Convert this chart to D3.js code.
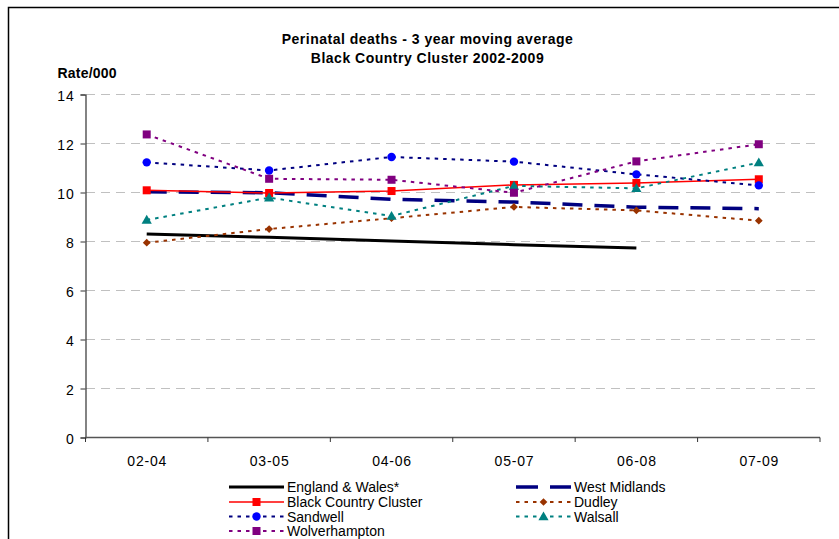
<!DOCTYPE html>
<html><head><meta charset="utf-8">
<script src="https://cdn.jsdelivr.net/npm/d3@7"></script>
<style>
html,body{margin:0;padding:0;background:#fff;}
svg{display:block;font-family:"Liberation Sans",Arial,sans-serif;}
</style></head>
<body><svg id="c" width="839" height="539"></svg>
<script>
const categories = ["02-04","03-05","04-06","05-07","06-08","07-09"];
const yTicks = [0,2,4,6,8,10,12,14];
const englandWales = [8.31, 8.17, 8.02, 7.87, 7.73, null];
const westMidlands = [10.03, 9.99, 9.72, 9.61, 9.40, 9.34];
const blackCountry = [10.09, 9.98, 10.06, 10.31, 10.39, 10.54];
const dudley = [7.95, 8.51, 8.95, 9.41, 9.27, 8.85];
const sandwell = [11.23, 10.90, 11.45, 11.26, 10.74, 10.29];
const walsall = [8.88, 9.79, 9.04, 10.27, 10.17, 11.22];
const wolverhampton = [12.37, 10.56, 10.52, 9.99, 11.27, 11.97];
const seriesNames = ["England & Wales*","West Midlands","Black Country Cluster","Dudley","Sandwell","Walsall","Wolverhampton"];

const styles = [
  {line:"#000000", w:3, dash:null, marker:null, mc:null},
  {line:"#000080", w:3.5, dash:"20,12", marker:null, mc:null},
  {line:"#FF0000", w:1.5, dash:null, marker:"square", mc:"#FF0000"},
  {line:"#993300", w:2, dash:"3.5,5", marker:"diamond", mc:"#993300"},
  {line:"#000080", w:2, dash:"3.5,5", marker:"circle", mc:"#0000FF"},
  {line:"#008080", w:2, dash:"3.5,5", marker:"triangle", mc:"#008080"},
  {line:"#800080", w:2, dash:"3.5,5", marker:"square", mc:"#800080"}
];
const allSeries = [englandWales, westMidlands, blackCountry, dudley, sandwell, walsall, wolverhampton];

const svg = d3.select("#c");
svg.append("path").attr("d","M8.5,540 V7.5 H840").attr("fill","none").attr("stroke","#000").attr("stroke-width",1.5);

const x = d3.scalePoint().domain(categories).range([85.5, 820]).padding(0.5);
const xb = d3.scaleBand().domain(categories).range([85.5, 820]);
const y = d3.scaleLinear().domain([0,14]).range([437.5, 94.5]);

// gridlines
svg.append("g").selectAll("line").data(yTicks.filter(d=>d>0)).join("line")
  .attr("x1",86).attr("x2",820).attr("y1",d=>y(d)).attr("y2",d=>y(d))
  .attr("stroke","#c0c0c0").attr("stroke-width",1).attr("stroke-dasharray","9,6");

// y axis
const ya = svg.append("g").attr("transform","translate(85.5,0)")
  .call(d3.axisLeft(y).tickValues(yTicks).tickSize(5).tickPadding(6).tickFormat(d3.format("d")));
ya.select(".domain").attr("stroke","#333").attr("stroke-width",1.2);
ya.selectAll(".tick line").attr("stroke","#333");
ya.selectAll("text").attr("font-size",14).attr("letter-spacing",0.8).attr("fill","#000")
  .attr("font-family","Liberation Sans, Arial, sans-serif").attr("dy","0.4em");

// x axis
const xa = svg.append("g").attr("transform","translate(0,437.5)")
  .call(d3.axisBottom(x).tickSize(0).tickPadding(0));
xa.select(".domain").remove();
xa.selectAll("text").attr("font-size",14).attr("letter-spacing",0.8).attr("fill","#000")
  .attr("font-family","Liberation Sans, Arial, sans-serif").attr("dy",0).attr("y",28.5);
svg.append("line").attr("x1",85.5).attr("x2",820).attr("y1",437.5).attr("y2",437.5).attr("stroke","#555").attr("stroke-width",1.5);
const bounds = categories.map(c=>xb(c)).concat([xb(categories[categories.length-1])+xb.bandwidth()]);
svg.append("g").selectAll("line").data(bounds).join("line")
  .attr("x1",d=>d).attr("x2",d=>d).attr("y1",437.5).attr("y2",442).attr("stroke","#333");

function drawMarker(g, type, cx, cy, color){
  if(type==="square") g.append("rect").attr("x",cx-4).attr("y",cy-4).attr("width",8).attr("height",8).attr("fill",color);
  else if(type==="circle") g.append("circle").attr("cx",cx).attr("cy",cy).attr("r",4.2).attr("fill",color);
  else if(type==="diamond") g.append("path").attr("d",d3.symbol(d3.symbolSquare,30)()).attr("transform",`translate(${cx},${cy}) rotate(45)`).attr("fill",color);
  else if(type==="triangle") g.append("path").attr("d",d3.symbol(d3.symbolTriangle,45)()).attr("transform",`translate(${cx},${cy+0.8})`).attr("fill",color);
}

const lineGen = d3.line().defined(d=>d.v!=null).x(d=>x(d.c)).y(d=>y(d.v));
allSeries.forEach((s,i)=>{
  const st = styles[i];
  const pts = categories.map((c,j)=>({c, v:s[j]}));
  const g = svg.append("g");
  const p = g.append("path").datum(pts).attr("d",lineGen).attr("fill","none")
    .attr("stroke",st.line).attr("stroke-width",st.w).attr("stroke-linejoin","round");
  if(st.dash) p.attr("stroke-dasharray",st.dash);
  if(st.marker) pts.filter(d=>d.v!=null).forEach(d=>drawMarker(g, st.marker, x(d.c), y(d.v), st.mc));
});

// titles
svg.append("text").attr("x",427.5).attr("y",44).attr("text-anchor","middle").attr("font-weight","bold").attr("font-size",14).attr("letter-spacing",0.5).text("Perinatal deaths - 3 year moving average");
svg.append("text").attr("x",427.5).attr("y",62.5).attr("text-anchor","middle").attr("font-weight","bold").attr("font-size",14).attr("letter-spacing",0.5).text("Black Country Cluster 2002-2009");
svg.append("text").attr("x",57.5).attr("y",78).attr("font-weight","bold").attr("font-size",14).attr("letter-spacing",0.2).text("Rate/000");

// legend
const legPos = [
  {x:229, y:487},{x:516, y:487},
  {x:229, y:502},{x:516, y:502},
  {x:229, y:516.5},{x:516, y:516.5},
  {x:229, y:531}
];
[0,1,2,3,4,5,6].forEach((si,k)=>{
  const st = styles[si], pos = legPos[k];
  const g = svg.append("g");
  const l = g.append("line").attr("x1",pos.x).attr("x2",pos.x+55).attr("y1",pos.y).attr("y2",pos.y)
    .attr("stroke",st.line).attr("stroke-width",st.w);
  if(st.dash) l.attr("stroke-dasharray", si===1 ? "22,12" : "3.5,5");
  if(st.marker) drawMarker(g, st.marker, pos.x+27.5, pos.y, st.mc);
  g.append("text").attr("x",pos.x+58).attr("y",pos.y+5).attr("font-size",14).text(seriesNames[si]);
});
</script></body></html>
